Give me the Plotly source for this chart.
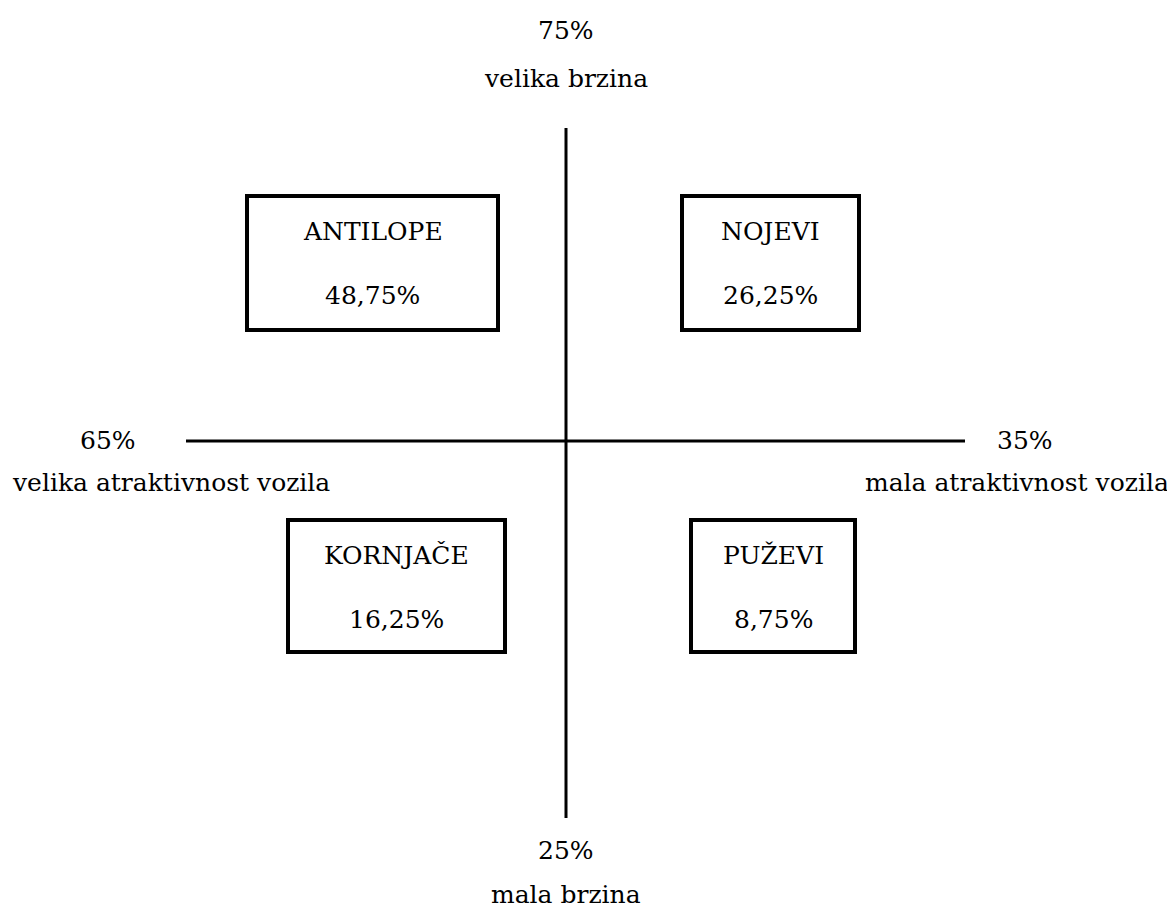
import plotly.graph_objects as go

# Data
segments = ["ANTILOPE", "NOJEVI", "KORNJAČE", "PUŽEVI"]
shares = ["48,75%", "26,25%", "16,25%", "8,75%"]
axis_pcts = ["75%", "25%", "65%", "35%"]
axis_names = ["velika brzina", "mala brzina", "velika atraktivnost vozila", "mala atraktivnost vozila"]

# Layout geometry (screen pixel space; page body has an 8px margin)
W, H = 1175, 909
OFF = 8
box_rects = [(247, 196, 498, 330), (682, 196, 859, 330), (288, 520, 505, 652), (691, 520, 855, 652)]
pct_pos = [(566, 30), (566, 850), (108, 440), (1025, 440)]
name_pos = [(566, 78), (566, 894), (171, 482), (1017, 482)]

FONT = dict(family="DejaVu Serif", size=25, color="black")

fig = go.Figure()
fig.add_trace(go.Scatter(x=[OFF, W], y=[OFF, H], mode="markers", marker=dict(opacity=0), hoverinfo="skip", showlegend=False))

shapes = [
    dict(type="line", x0=566, x1=566, y0=128, y1=818, line=dict(color="black", width=3)),
    dict(type="line", x0=186, x1=965, y0=441, y1=441, line=dict(color="black", width=3)),
]
annotations = []
for (x0, y0, x1, y1), name, share in zip(box_rects, segments, shares):
    shapes.append(dict(type="rect", x0=x0, x1=x1, y0=y0, y1=y1, line=dict(color="black", width=4), fillcolor="rgba(0,0,0,0)"))
    cx = (x0 + x1) / 2
    annotations.append(dict(x=cx, y=y0 + 35, text=name, showarrow=False, font=FONT, xanchor="center", yanchor="middle"))
    annotations.append(dict(x=cx, y=y0 + 99, text=share, showarrow=False, font=FONT, xanchor="center", yanchor="middle"))
for (x, y), t in zip(pct_pos, axis_pcts):
    annotations.append(dict(x=x, y=y, text=t, showarrow=False, font=FONT, xanchor="center", yanchor="middle"))
for (x, y), t in zip(name_pos, axis_names):
    annotations.append(dict(x=x, y=y, text=t, showarrow=False, font=FONT, xanchor="center", yanchor="middle"))

for s in shapes:
    s.update(xref="x", yref="y", layer="above")
for a in annotations:
    a.update(xref="x", yref="y")

fig.update_layout(
    width=W - OFF, height=H - OFF,
    margin=dict(l=0, r=0, t=0, b=0),
    paper_bgcolor="white", plot_bgcolor="white",
    font=FONT,
    xaxis=dict(range=[OFF, W], visible=False, fixedrange=True),
    yaxis=dict(range=[H, OFF], visible=False, fixedrange=True),
    shapes=shapes, annotations=annotations,
    showlegend=False,
)
fig.write_html("out.html")
